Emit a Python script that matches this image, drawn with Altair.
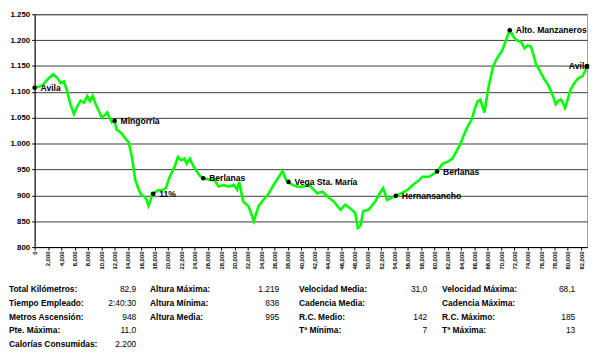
import altair as alt
import pandas as pd

# Elevation profile (distance in metres, altitude in metres)
dist = [0, 600, 1200, 2000, 2800, 3400, 3900, 4400, 4800, 5400, 5900, 6400, 6900, 7400, 7900,
        8300, 8700, 9300, 10100, 10500, 10900, 11300, 11600, 12000, 12300, 12700, 13100, 13600,
        14100, 14600, 15100, 15600, 16000, 16500, 16800, 17100, 17400, 17600, 17800, 18500,
        19200, 19700, 20100, 20500, 21000, 21500, 22000, 22500, 22800, 23300, 23800, 24200,
        24700, 25300, 26400, 26900, 27600, 28400, 29100, 29900, 30400, 30700, 31300, 32100,
        32900, 33600, 34300, 35000, 36000, 36600, 37200, 37700, 38100, 38700, 39400, 40000,
        41200, 41800, 42400, 43200, 44200, 44900, 45400, 45900, 46600, 47100, 47600, 48100,
        48500, 48900, 49300, 50100, 50600, 51100, 51800, 52300, 52900, 53500, 54200, 55500,
        56000, 57000, 57600, 58200, 59200, 60400, 61200, 62000, 62700, 63300, 63900, 64400,
        64900, 65600, 66100, 66500, 66900, 67200, 67500, 68100, 68800, 69400, 70100, 70600,
        71000, 71300, 71800, 72300, 73000, 73500, 74000, 74500, 74900, 75200, 75900, 76500,
        77000, 77500, 77900, 78200, 78600, 79000, 79300, 79600, 80000, 80400, 80900, 81400,
        81800, 82200, 82600, 82900]
alt_m = [1108, 1110, 1113, 1125, 1134, 1127, 1117, 1120, 1105, 1075, 1057, 1072, 1083, 1079, 1092,
         1082, 1092, 1072, 1050, 1055, 1060, 1048, 1041, 1044, 1027, 1024, 1019, 1010,
         1003, 974, 930, 912, 901, 897, 892, 880, 890, 904, 903, 910,
         910, 914, 930, 942, 955, 974, 968, 971, 961, 971, 957, 949,
         939, 933, 930, 931, 917, 920, 917, 920, 911, 926, 888, 879,
         850, 879, 891, 901, 923, 935, 947, 930, 926, 920, 917, 916,
         920, 912, 904, 907, 895, 888, 880, 872, 882, 877, 872, 866,
         837, 841, 869, 872, 880, 888, 904, 914, 891, 895, 899, 907,
         911, 923, 928, 936, 936, 946, 961, 965, 971, 985, 1000, 1016,
         1031, 1047, 1069, 1082, 1085, 1072, 1060, 1108, 1149, 1165, 1178, 1195,
         1209, 1219, 1208, 1200, 1197, 1184, 1190, 1187, 1170, 1155, 1138, 1124,
         1115, 1101, 1088, 1076, 1083, 1085, 1078, 1069, 1085, 1104, 1115, 1124,
         1128, 1130, 1140, 1148]

# Named waypoints
wp_name = ["Avila", "Mingorria", "11%", "Berlanas", "Vega Sta. María", "Hernansancho",
           "Berlanas", "Alto. Manzaneros", "Avila"]
wp_dist = [0, 12000, 17800, 25300, 38100, 54200, 60400, 71300, 82900]
wp_alt = [1108, 1044, 903, 933, 926, 899, 946, 1219, 1150]
wp_side = ["r", "r", "r", "r", "r", "r", "r", "r", "l"]

# Summary table (four columns)
col_labels = [
    ["Total Kilómetros:", "Tiempo Empleado:", "Metros Ascensión:", "Pte. Máxima:", "Calorías Consumidas:"],
    ["Altura Máxima:", "Altura Mínima:", "Altura Media:"],
    ["Velocidad Media:", "Cadencia Media:", "R.C. Medio:", "Tª Mínima:"],
    ["Velocidad Máxima:", "Cadencia Máxima:", "R.C.  Máximo:", "Tª Máxima:"],
]
col_values = [
    ["82,9", "2:40:30", "948", "11,0", "2.200"],
    ["1.219", "838", "995"],
    ["31,0", "", "142", "7"],
    ["68,1", "", "185", "13"],
]

x_ticks = list(range(0, 82001, 2000))
y_ticks = list(range(800, 1251, 50))

W, H = 560, 236
xscale = alt.Scale(domain=[0, 82900], nice=False, zero=False)
yscale = alt.Scale(domain=[800, 1250], nice=False, zero=False)

xaxis = alt.Axis(values=x_ticks, format=",d", labelAngle=-90, labelFontSize=6,
                 labelFont="Liberation Sans", labelFontWeight="bold",
                 labelColor="#000", tickColor="#000", tickSize=3, labelPadding=1,
                 domainColor="#000", grid=False, labelOverlap=False, labelFlush=False,
                 labelBound=False)
yaxis = alt.Axis(values=y_ticks,
                 labelExpr="replace(format(datum.value, ','), ',', '.')",
                 labelFontSize=8, labelFont="Liberation Sans", labelFontWeight="bold",
                 labelColor="#000", tickColor="#000", tickSize=3, labelPadding=2,
                 domainColor="#000", grid=True, gridColor="#3a3a3a", gridWidth=1,
                 labelOverlap=False)

X = alt.X("d:Q", scale=xscale, title=None, axis=xaxis)
Y = alt.Y("a:Q", scale=yscale, title=None, axis=yaxis)

prof = pd.DataFrame({"d": dist, "a": alt_m})
wps = pd.DataFrame({"name": wp_name, "d": wp_dist, "a": wp_alt, "side": wp_side})

line = alt.Chart(prof).mark_line(color="#00FF00", strokeWidth=2.6).encode(x=X, y=Y)

pts = alt.Chart(wps).mark_circle(color="#000", opacity=1, size=22).encode(x=X, y=Y)

lab_r = alt.Chart(wps).transform_filter("datum.side == 'r'").mark_text(
    align="left", baseline="middle", dx=6, font="Liberation Sans", fontWeight="bold",
    fontSize=8.7, color="#000").encode(x=X, y=Y, text="name:N")

lab_l = alt.Chart(wps).transform_filter("datum.side == 'l'").mark_text(
    align="right", baseline="middle", dx=2, font="Liberation Sans", fontWeight="bold",
    fontSize=8.7, color="#000").encode(x=X, y=Y, text="name:N")

# Layout of the summary table (pixels relative to plot origin)
label_x = [-26, 117, 268, 413]
value_x = [103, 248, 398, 548]
row_y0, row_dy = 279, 13.8

one = pd.DataFrame({"k": [0]})
stats = []
for c in range(4):
    for r, (lab, val) in enumerate(zip(col_labels[c], col_values[c])):
        yy = row_y0 + r * row_dy
        stats.append(alt.Chart(one).mark_text(
            align="left", baseline="middle", font="Liberation Sans", fontWeight="bold",
            fontSize=8.5, color="#000").encode(
            x=alt.value(label_x[c]), y=alt.value(yy), text=alt.value(lab)))
        if val:
            stats.append(alt.Chart(one).mark_text(
                align="right", baseline="middle", font="Liberation Sans",
                fontSize=8.5, color="#000").encode(
                x=alt.value(value_x[c]), y=alt.value(yy), text=alt.value(val)))

chart = alt.layer(line, pts, lab_r, lab_l, *stats).properties(
    width=W, height=H,
    autosize=alt.AutoSizeParams(type="none"),
    padding={"left": 27, "top": 4, "right": 5, "bottom": 104},
    background="#ffffff",
).configure_view(stroke="#a0a0a0", strokeWidth=1)

chart.save("out.html", embed_options={"renderer": "svg", "actions": False})
